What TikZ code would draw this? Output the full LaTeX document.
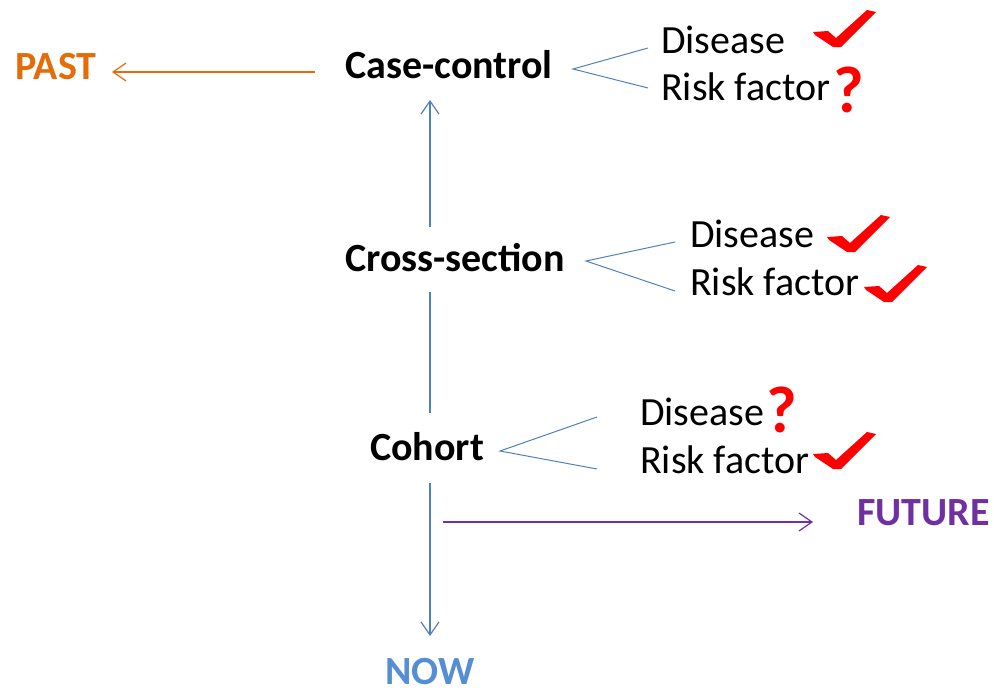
\documentclass[tikz,border=0pt]{standalone}
\usepackage{fontspec}
\setmainfont{Carlito}
\usetikzlibrary{arrows.meta}
\definecolor{pastOrange}{HTML}{E46C0A}
\definecolor{nowBlue}{HTML}{558ED5}
\definecolor{lineBlue}{HTML}{4F81BD}
\definecolor{futurePurple}{HTML}{7030A0}
\definecolor{markRed}{HTML}{FF0000}
\tikzset{
  study/.style={anchor=base west, inner sep=0pt, font=\fontsize{40}{42}\selectfont\bfseries},
  item/.style={anchor=base west, inner sep=0pt, font=\fontsize{40}{42}\selectfont},
  query/.style={anchor=base west, inner sep=0pt, text=markRed, font=\fontsize{66}{68}\selectfont\bfseries},
  branch/.style={lineBlue, line width=1pt},
  timeline/.style={line width=1.3pt, -{Straight Barb[length=13pt,width=18pt,line width=1.2pt]}},
  tickmark/.pic={\fill[markRed] (0,22) -- (15,21) -- (23,28) -- (54,0) -- (63,2) -- (28,37) -- (20,37) -- (2,25) -- cycle;}
}
\begin{document}
\begin{tikzpicture}[x=1pt, y=-1pt]
            \useasboundingbox (0,0) rectangle (994,696);
            \node[study, text=pastOrange] (past) at (15,79) {PAST};
            \node[study] (casectl) at (345,78) {Case-control};
            \node[study] (crosssec) at (345,271) {Cross-section};
            \node[study] (cohort) at (370,460) {Cohort};
            \node[study, text=futurePurple, anchor=base east] (future) at (990,525) {FUTURE};
            \node[study, text=nowBlue, anchor=base] (now) at (430,684) {NOW};
            \node[item] (cc-dis) at (661,53) {Disease};
            \node[item] (cc-risk) at (661,100) {Risk factor};
            \node[item] (cs-dis) at (690,247) {Disease};
            \node[item] (cs-risk) at (690,295) {Risk factor};
            \node[item] (co-dis) at (640,425) {Disease};
            \node[item] (co-risk) at (640,473) {Risk factor};
            \node[query] (cc-risk-q) at (833,112) {?};
            \node[query] (co-dis-q) at (766,432) {?};
            \pic (cc-dis-ok) at (813,10) {tickmark};
            \pic (cs-dis-ok) at (827,215) {tickmark};
            \pic (cs-risk-ok) at (864,265) {tickmark};
            \pic (co-risk-ok) at (813,432) {tickmark};
            \coordinate (cc-v) at (573,69);
            \coordinate (cc-a) at (648,48);
            \coordinate (cc-b) at (648,88);
            \coordinate (cs-v) at (586,261);
            \coordinate (cs-a) at (675,242);
            \coordinate (cs-b) at (675,291);
            \coordinate (co-v) at (500,451);
            \coordinate (co-a) at (597,417);
            \coordinate (co-b) at (597,469);
            \draw[branch] (cc-a) -- (cc-v) -- (cc-b);
            \draw[branch] (cs-a) -- (cs-v) -- (cs-b);
            \draw[branch] (co-a) -- (co-v) -- (co-b);
            \coordinate (past-from) at (315,72);
            \coordinate (past-to) at (112,72);
            \coordinate (up-from) at (430,227);
            \coordinate (up-to) at (430,100);
            \coordinate (mid-top) at (430,292);
            \coordinate (mid-bot) at (430,413);
            \coordinate (down-from) at (430,483);
            \coordinate (down-to) at (430,636);
            \coordinate (fut-from) at (443,522);
            \coordinate (fut-to) at (813,522);
            \draw[timeline, pastOrange] (past-from) -- (past-to);
            \draw[timeline, lineBlue] (up-from) -- (up-to);
            \draw[lineBlue, line width=1.3pt] (mid-top) -- (mid-bot);
            \draw[timeline, lineBlue] (down-from) -- (down-to);
            \draw[timeline, futurePurple] (fut-from) -- (fut-to);
        \end{tikzpicture}
\end{document}
